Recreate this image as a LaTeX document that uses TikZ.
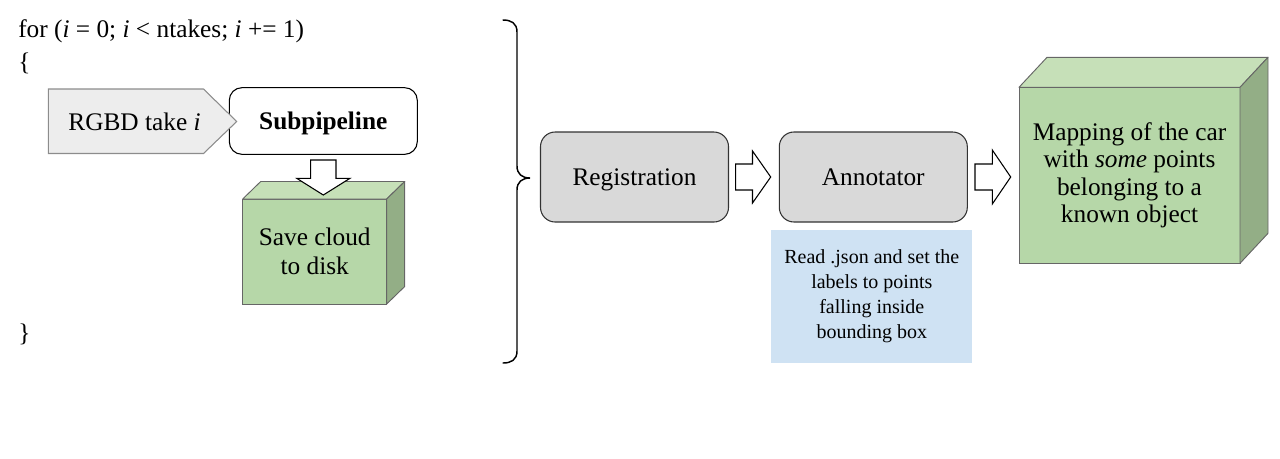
\documentclass[tikz,border=0pt]{standalone}
\usepackage{fontspec}
\setmainfont{Liberation Serif}
\definecolor{boxgray}{HTML}{D9D9D9}
\definecolor{lightgray}{HTML}{EDEDED}
\definecolor{edgegray}{HTML}{8C8C8C}
\definecolor{notefill}{HTML}{CFE2F3}
\definecolor{cubefrontc}{HTML}{B6D7A8}
\definecolor{cubetopc}{HTML}{C6E0B8}
\definecolor{cubesidec}{HTML}{93AE86}
\definecolor{cubeedge}{HTML}{666666}
\tikzset{
  mainfont/.style={font=\fontsize{19}{22}\selectfont},
  oneline/.style={text height=12.6pt, text depth=0pt},
  procbox/.style={mainfont, oneline, draw=black!80, fill=boxgray, line width=0.8pt,
    rounded corners=11pt, minimum width=141pt, minimum height=67.5pt,
    align=center, outer sep=0pt},
  subbox/.style={mainfont, oneline, draw=black, fill=white, line width=0.8pt,
    rounded corners=9.5pt, minimum width=141pt, minimum height=50pt,
    align=center, outer sep=0pt},
  notebox/.style={font=\fontsize{15}{18.75}\selectfont, fill=notefill,
    minimum width=151pt, minimum height=100pt, align=center},
  cubefront/.style={draw=cubeedge, fill=cubefrontc, line width=0.7pt,
    align=center, outer sep=0pt, inner sep=2pt},
  cubetop/.style={draw=cubeedge, fill=cubetopc, line width=0.7pt, line join=round},
  cubeside/.style={draw=cubeedge, fill=cubesidec, line width=0.7pt, line join=round},
  blockarrow/.style={draw=black, fill=white, line width=0.8pt, line join=miter},
  plaintext/.style={mainfont, inner sep=0pt, anchor=base west},
}
\begin{document}
\begin{tikzpicture}[x=0.75pt,y=-0.75pt]
\useasboundingbox (0,0) rectangle (1280,458);

% loop header text
\node[plaintext] (forline) at (18,37.5) {for (\textit{i} = 0; \textit{i} < ntakes; \textit{i} += 1)};
\node[plaintext] (obrace) at (18,70.5) {\{};
\node[plaintext] (cbrace) at (18,341) {\}};

% Subpipeline box
\node[subbox] (sub) at (323.3,121) {\bfseries Subpipeline};

% RGBD take i (pentagon)
\draw[draw=edgegray, fill=lightgray, line width=0.8pt]
  (48.3,89) -- (203.5,89) -- (236.7,121.5) -- (203.5,153.5) -- (48.3,153.5) -- cycle;
\node[mainfont, oneline, inner sep=0pt] (rgbd) at (134.5,122) {RGBD take \textit{i}};

% Save cloud cube
\node[cubefront, font=\fontsize{19}{21.75}\selectfont, minimum width=108pt, minimum height=78.75pt] (save) at (314.7,251.5) {Save cloud\\to disk};
\draw[cubetop] (save.north west) -- ++(18,-17.5) -- ++(144,0) -- (save.north east) -- cycle;
\draw[cubeside] (save.north east) -- ++(18,-17.5) -- ++(0,105) -- (save.south east) -- cycle;

% down block arrow
\draw[blockarrow] (310.7,160) -- (336,160) -- (336,178.3) -- (350,178.3) -- (323.3,195)
  -- (296.7,178.3) -- (310.7,178.3) -- cycle;

% big right brace
\draw[line width=1.1pt, line cap=round]
  (503,20) .. controls (511,20) and (517,23) .. (517,32) -- (517,166)
  .. controls (517,174) and (522,178) .. (530,178)
  .. controls (522,178) and (517,182) .. (517,190) -- (517,351)
  .. controls (517,360) and (511,363) .. (503,363);

% Registration and Annotator
\node[procbox] (reg) at (634.5,177) {Registration};
\node[procbox] (ann) at (873.3,177) {Annotator};

% right block arrows
\draw[blockarrow] (735.7,164) -- (752.5,164) -- (752.5,151) -- (770.7,177) -- (752.5,203)
  -- (752.5,190) -- (735.7,190) -- cycle;
\draw[blockarrow] (975,164) -- (992.3,164) -- (992.3,150) -- (1010.7,177) -- (992.3,204)
  -- (992.3,190) -- (975,190) -- cycle;

% note box
\node[notebox] (note) at (871.8,296.7) {Read .json and set the\\labels to points\\falling inside\\bounding box};

% Mapping cube
\node[cubefront, font=\fontsize{19}{20.5}\selectfont, minimum width=165.75pt, minimum height=132pt] (map) at (1129.5,175.3)
  {Mapping of the car\\with \textit{some} points\\belonging to a\\known object};
\draw[cubetop] (map.north west) -- ++(28,-30) -- ++(221,0) -- (map.north east) -- cycle;
\draw[cubeside] (map.north east) -- ++(28,-30) -- ++(0,176) -- (map.south east) -- cycle;
\end{tikzpicture}
\end{document}
